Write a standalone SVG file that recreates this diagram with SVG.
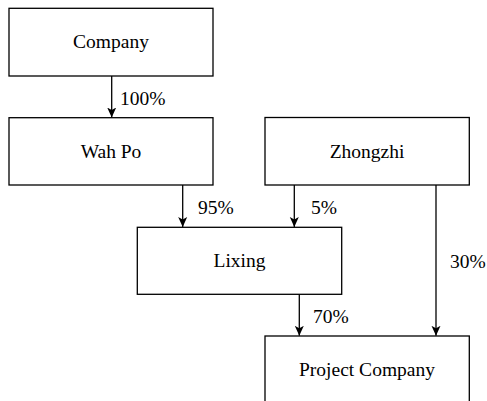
<svg xmlns="http://www.w3.org/2000/svg" width="487" height="401" viewBox="0 0 487 401">
<style>
.box{fill:#fff;stroke:#000;stroke-width:1.3}
.ln{stroke:#000;stroke-width:1.3;fill:none}
</style>
<defs>
<marker id="ah" markerWidth="10" markerHeight="12" refX="10" refY="5" orient="auto" markerUnits="userSpaceOnUse" viewBox="0 0 10 10">
<path d="M0,0.5 L10,5 L0,9.5 L2.5,5 Z" fill="#000"/>
</marker>
</defs>
<rect width="487" height="401" fill="#fff"/>
<g font-family="'Liberation Serif', 'Times New Roman', 'DejaVu Serif', serif" font-size="19.5" fill="#000">
<g id="connectors">
<line class="ln" x1="111.7" y1="76" x2="111.7" y2="117.5" marker-end="url(#ah)"/>
<line class="ln" x1="182.7" y1="185" x2="182.7" y2="227" marker-end="url(#ah)"/>
<line class="ln" x1="294.3" y1="185" x2="294.3" y2="227" marker-end="url(#ah)"/>
<line class="ln" x1="299.3" y1="294.3" x2="299.3" y2="335.8" marker-end="url(#ah)"/>
<line class="ln" x1="436" y1="185" x2="436" y2="335.8" marker-end="url(#ah)"/>
<text x="120" y="104.5">100%</text>
<text x="198" y="213.5">95%</text>
<text x="311" y="213.5">5%</text>
<text x="313" y="322.5">70%</text>
<text x="450" y="267.5">30%</text>
</g>
<g id="company" text-anchor="middle">
<rect class="box" x="9" y="8.3" width="204" height="67.7"/>
<text x="111" y="48">Company</text>
</g>
<g id="wahpo" text-anchor="middle">
<rect class="box" x="9" y="117.7" width="204" height="67.3"/>
<text x="111" y="157.5">Wah Po</text>
</g>
<g id="zhongzhi" text-anchor="middle">
<rect class="box" x="265" y="117.5" width="204.3" height="67.5"/>
<text x="367" y="157.5">Zhongzhi</text>
</g>
<g id="lixing" text-anchor="middle">
<rect class="box" x="137.3" y="227.3" width="204.4" height="67"/>
<text x="239.5" y="267">Lixing</text>
</g>
<g id="projectcompany" text-anchor="middle">
<rect class="box" x="265" y="336" width="204.3" height="80"/>
<text x="367" y="376">Project Company</text>
</g>
</g>
</svg>
